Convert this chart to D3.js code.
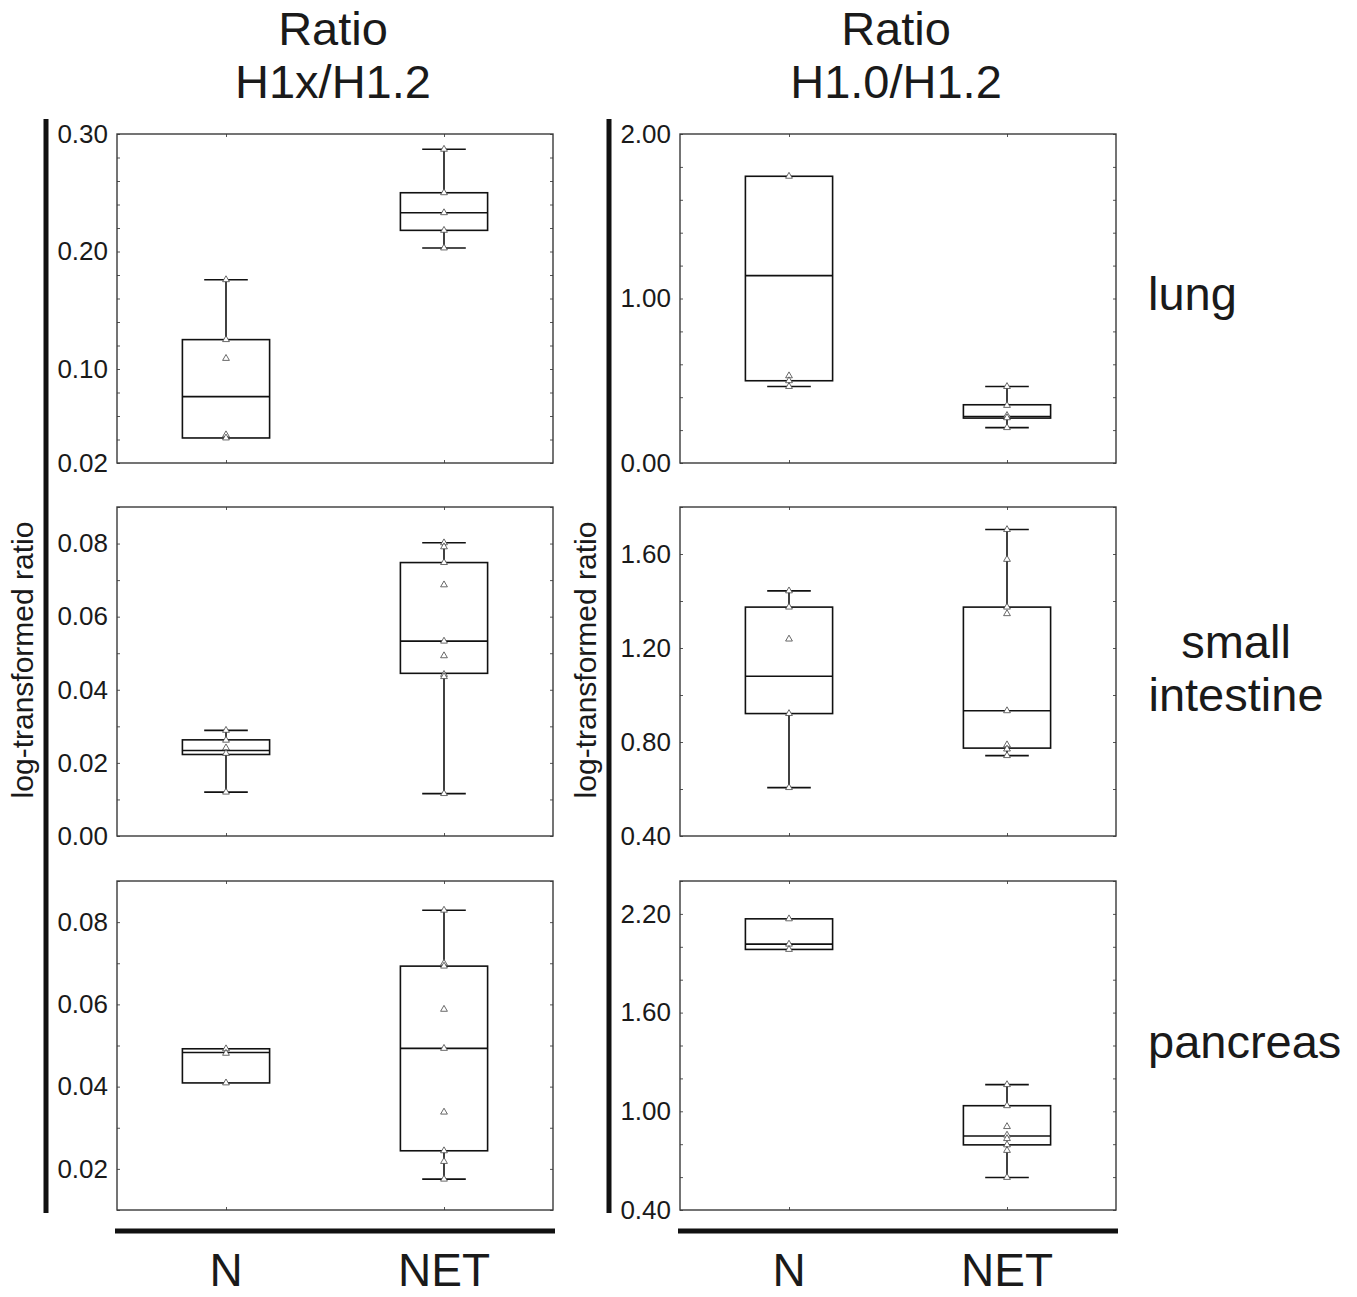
<!DOCTYPE html>
<html>
<head>
<meta charset="utf-8">
<script src="https://cdn.jsdelivr.net/npm/d3@7"></script>
<style>
body { margin: 0; background: #fff; }
text { font-family: "Liberation Sans", Arial, sans-serif; fill: #1a1a1a; }
</style>
</head>
<body>
<svg id="chart" width="1357" height="1297"></svg>
<script>
// groups on the x axis
var groups = ['N', 'NET'];
var ratioTitles = [['Ratio', 'H1x/H1.2'], ['Ratio', 'H1.0/H1.2']];
var tissues = [['lung'], ['small', 'intestine'], ['pancreas']];

// box stats per group: [min, q1, median, q3, max]  (N, NET)
var h1xLungBox = [[0.0413, 0.0413, 0.0765, 0.125, 0.176], [0.203, 0.218, 0.233, 0.250, 0.287]];
var h1xLungPts = [[0.176, 0.125, 0.109, 0.044, 0.0413], [0.287, 0.250, 0.233, 0.218, 0.203]];
var h1xLungTicks = [0.02, 0.10, 0.20, 0.30];

var h10LungBox = [[0.465, 0.500, 1.139, 1.743, 1.743], [0.215, 0.273, 0.283, 0.354, 0.465]];
var h10LungPts = [[1.743, 0.530, 0.500, 0.465], [0.465, 0.350, 0.289, 0.275, 0.215]];
var h10LungTicks = [0.00, 1.00, 2.00];

var h1xIntBox = [[0.0120, 0.0223, 0.0234, 0.0263, 0.0289], [0.0116, 0.0445, 0.0533, 0.0748, 0.0802]];
var h1xIntPts = [[0.0289, 0.0262, 0.0241, 0.0226, 0.0120],
                 [0.0802, 0.0791, 0.0748, 0.0687, 0.0533, 0.0493, 0.0442, 0.0436, 0.0116]];
var h1xIntTicks = [0.00, 0.02, 0.04, 0.06, 0.08];

var h10IntBox = [[0.606, 0.921, 1.080, 1.374, 1.443], [0.742, 0.774, 0.933, 1.374, 1.704]];
var h10IntPts = [[1.443, 1.374, 1.238, 0.921, 0.606],
                 [1.704, 1.577, 1.374, 1.346, 0.933, 0.788, 0.770, 0.742]];
var h10IntTicks = [0.40, 0.80, 1.20, 1.60];

var h1xPancBox = [[0.0409, 0.0409, 0.0483, 0.0492, 0.0492], [0.0175, 0.0244, 0.0493, 0.0693, 0.0829]];
var h1xPancPts = [[0.0492, 0.0481, 0.0409],
                  [0.0829, 0.0700, 0.0693, 0.0588, 0.0493, 0.0338, 0.0244, 0.0218, 0.0175]];
var h1xPancTicks = [0.02, 0.04, 0.06, 0.08];

var h10PancBox = [[1.984, 1.984, 2.016, 2.170, 2.170], [0.598, 0.796, 0.850, 1.034, 1.162]];
var h10PancPts = [[2.170, 2.016, 1.984],
                  [1.162, 1.034, 0.907, 0.855, 0.834, 0.796, 0.762, 0.598]];
var h10PancTicks = [0.40, 1.00, 1.60, 2.20];

// layout
var colX = [117, 680];
var rowY = [134, 507, 881];
var pw = 436, ph = 329;

var panels = [
  {col: 0, row: 0, box: h1xLungBox, pts: h1xLungPts, ticks: h1xLungTicks, domain: [0.02, 0.30], minor: 0.02},
  {col: 1, row: 0, box: h10LungBox, pts: h10LungPts, ticks: h10LungTicks, domain: [0, 2], minor: 0.2},
  {col: 0, row: 1, box: h1xIntBox, pts: h1xIntPts, ticks: h1xIntTicks, domain: [0, 0.09], minor: 0.01},
  {col: 1, row: 1, box: h10IntBox, pts: h10IntPts, ticks: h10IntTicks, domain: [0.4, 1.8], minor: 0.2},
  {col: 0, row: 2, box: h1xPancBox, pts: h1xPancPts, ticks: h1xPancTicks, domain: [0.01, 0.09], minor: 0.01},
  {col: 1, row: 2, box: h10PancBox, pts: h10PancPts, ticks: h10PancTicks, domain: [0.4, 2.4], minor: 0.2}
];

var svg = d3.select('#chart');
var x = d3.scalePoint().domain(groups).range([0, pw]).padding(0.5);
var bw = x.step() * 0.4;
var capW = x.step() * 0.2;
var tri = d3.symbol().type(d3.symbolTriangle).size(20);

panels.forEach(drawPanel);

function drawPanel(p) {
  var g = svg.append('g')
    .attr('transform', 'translate(' + colX[p.col] + ',' + rowY[p.row] + ')');
  var y = d3.scaleLinear().domain(p.domain).range([ph, 0]);
  var minor = d3.range(p.domain[0], p.domain[1] + p.minor / 2, p.minor);

  // small inner ticks on every side
  g.append('g').call(d3.axisRight(y).tickValues(minor).tickSize(3).tickFormat(''));
  g.append('g').attr('transform', 'translate(' + pw + ',0)')
    .call(d3.axisLeft(y).tickValues(minor).tickSize(3).tickFormat(''));
  g.append('g').call(d3.axisBottom(x).tickSize(3).tickFormat(''));
  g.append('g').attr('transform', 'translate(0,' + ph + ')')
    .call(d3.axisTop(x).tickSize(3).tickFormat(''));
  g.selectAll('.domain').remove();
  g.selectAll('.tick line').attr('stroke', '#555').attr('stroke-width', 1);

  // tick labels
  var lab = g.append('g')
    .call(d3.axisLeft(y).tickValues(p.ticks).tickSize(0).tickPadding(9).tickFormat(d3.format('.2f')));
  lab.select('.domain').remove();
  lab.selectAll('text')
    .style('font-family', '"Liberation Sans", Arial, sans-serif')
    .style('font-size', '26px')
    .attr('fill', '#1a1a1a');

  // frame
  g.append('rect')
    .attr('width', pw)
    .attr('height', ph)
    .attr('fill', 'none')
    .attr('stroke', '#3a3a3a')
    .attr('stroke-width', 1.4);

  groups.forEach(function(grp, i) {
    var s = p.box[i];
    var cx = x(grp);
    var bg = g.append('g').attr('stroke', '#111').attr('stroke-width', 1.6).attr('fill', 'none');
    // whiskers
    if (s[0] < s[1]) {
      bg.append('line').attr('x1', cx).attr('x2', cx).attr('y1', y(s[0])).attr('y2', y(s[1]));
      bg.append('line').attr('x1', cx - capW / 2).attr('x2', cx + capW / 2).attr('y1', y(s[0])).attr('y2', y(s[0]));
    }
    if (s[4] > s[3]) {
      bg.append('line').attr('x1', cx).attr('x2', cx).attr('y1', y(s[3])).attr('y2', y(s[4]));
      bg.append('line').attr('x1', cx - capW / 2).attr('x2', cx + capW / 2).attr('y1', y(s[4])).attr('y2', y(s[4]));
    }
    bg.append('rect')
      .attr('x', cx - bw / 2)
      .attr('y', y(s[3]))
      .attr('width', bw)
      .attr('height', y(s[1]) - y(s[3]));
    bg.append('line')
      .attr('x1', cx - bw / 2).attr('x2', cx + bw / 2)
      .attr('y1', y(s[2])).attr('y2', y(s[2]));

    // raw points as open triangles
    g.selectAll('path.pt' + i)
      .data(p.pts[i])
      .enter()
      .append('path')
      .attr('class', 'pt' + i)
      .attr('d', tri)
      .attr('transform', function(d) { return 'translate(' + cx + ',' + y(d) + ')'; })
      .attr('fill', '#fff')
      .attr('stroke', '#444')
      .attr('stroke-width', 0.8);
  });
}

// heavy guide lines
colX.forEach(function(cx, i) {
  var lx = i === 0 ? 46 : 609;
  svg.append('line')
    .attr('x1', lx).attr('x2', lx)
    .attr('y1', rowY[0] - 15).attr('y2', rowY[2] + ph + 3)
    .attr('stroke', '#111').attr('stroke-width', 5);
  svg.append('line')
    .attr('x1', cx - 2).attr('x2', cx + pw + 2)
    .attr('y1', 1231).attr('y2', 1231)
    .attr('stroke', '#111').attr('stroke-width', 5);

  // column title
  svg.append('text')
    .attr('x', cx + pw / 2 - 2)
    .attr('y', 45)
    .attr('text-anchor', 'middle')
    .style('font-size', '47px')
    .text(ratioTitles[i][0]);
  svg.append('text')
    .attr('x', cx + pw / 2 - 2)
    .attr('y', 98)
    .attr('text-anchor', 'middle')
    .style('font-size', '47px')
    .text(ratioTitles[i][1]);

  // group labels
  groups.forEach(function(grp) {
    svg.append('text')
      .attr('x', cx + x(grp))
      .attr('y', 1286)
      .attr('text-anchor', 'middle')
      .style('font-size', '46px')
      .text(grp);
  });

  // y axis label
  svg.append('text')
    .attr('transform', 'translate(' + (lx - 13) + ',660) rotate(-90)')
    .attr('text-anchor', 'middle')
    .style('font-size', '30px')
    .text('log-transformed ratio');
});

// tissue labels on the right
var tissueY = [[310], [658, 711], [1058]];
tissues.forEach(function(lines, r) {
  lines.forEach(function(t, j) {
    svg.append('text')
      .attr('x', lines.length > 1 ? 1236 : 1148)
      .attr('y', tissueY[r][j])
      .attr('text-anchor', lines.length > 1 ? 'middle' : 'start')
      .style('font-size', '47px')
      .text(t);
  });
});
</script>
</body>
</html>
